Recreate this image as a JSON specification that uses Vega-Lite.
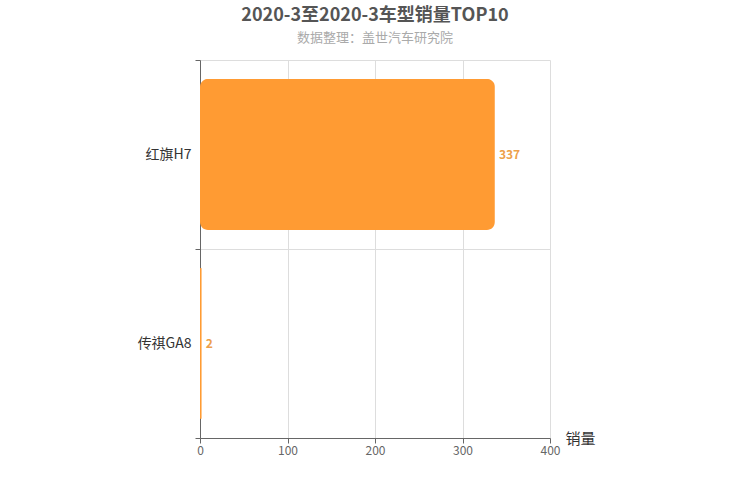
{
  "$schema": "https://vega.github.io/schema/vega-lite/v6.json",
  "autosize": {"type": "none"},
  "padding": {"left": 200, "top": 60, "right": 200, "bottom": 62},
  "width": 350,
  "height": 378,
  "title": {
    "text": "2020-3至2020-3车型销量TOP10",
    "subtitle": "数据整理：盖世汽车研究院",
    "anchor": "middle",
    "font": "Noto Sans CJK SC",
    "fontSize": 18,
    "fontWeight": "bold",
    "color": "#555555",
    "subtitleFont": "Noto Sans CJK SC",
    "subtitleFontSize": 13,
    "subtitleColor": "#aaaaaa",
    "subtitlePadding": 7,
    "offset": 8
  },
  "data": {
    "values": [
      {"model": "红旗H7", "sales": 337},
      {"model": "传祺GA8", "sales": 2}
    ]
  },
  "encoding": {
    "y": {
      "field": "model",
      "type": "nominal",
      "sort": ["红旗H7", "传祺GA8"],
      "title": null,
      "scale": {"paddingInner": 0, "paddingOuter": 0},
      "axis": {
        "tickBand": "extent",
        "grid": true,
        "gridColor": "#dddddd",
        "domainColor": "#666666",
        "tickColor": "#666666",
        "tickSize": 5,
        "labelFont": "Noto Sans CJK SC",
        "labelFontSize": 14,
        "labelColor": "#333333",
        "labelPadding": 4
      }
    },
    "x": {
      "field": "sales",
      "type": "quantitative",
      "title": "销量",
      "scale": {"domain": [0, 400]},
      "axis": {
        "values": [0, 100, 200, 300, 400],
        "grid": true,
        "gridColor": "#dddddd",
        "domainColor": "#666666",
        "tickColor": "#666666",
        "tickSize": 5,
        "labelFlush": false,
        "labelFont": "Noto Sans CJK SC",
        "labelFontSize": 12,
        "labelColor": "#666666",
        "titleFont": "Noto Sans CJK SC",
        "titleFontSize": 15,
        "titleFontWeight": "normal",
        "titleColor": "#333333",
        "titleX": 365,
        "titleY": 0,
        "titleAlign": "left",
        "titleBaseline": "middle"
      }
    }
  },
  "layer": [
    {
      "mark": {"type": "bar", "color": "#ff9b33", "cornerRadius": 8, "height": {"band": 0.8}},
      "encoding": {}
    },
    {
      "mark": {
        "type": "text",
        "align": "left",
        "baseline": "middle",
        "dx": 4,
        "font": "Noto Sans CJK SC",
        "fontSize": 12,
        "fontWeight": "bold",
        "color": "#eda04a"
      },
      "encoding": {"text": {"field": "sales", "type": "quantitative"}}
    }
  ],
  "config": {
    "view": {"stroke": null}
  }
}
